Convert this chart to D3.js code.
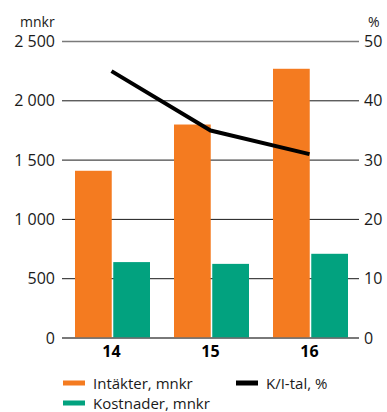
<!DOCTYPE html>
<html>
<head>
<meta charset="utf-8">
<script src="https://cdn.jsdelivr.net/npm/d3@7"></script>
<style>
  html, body { margin: 0; padding: 0; background: #fff; }
  svg { display: block; font-family: "Open Sans", Lato, sans-serif; }
</style>
</head>
<body>
<svg id="chart" width="387" height="412"></svg>
<script>
// Years shown on the category axis
const years = ["14", "15", "16"];
// Income and costs (mnkr)
const intakter = [1410, 1800, 2270];
const kostnader = [640, 625, 710];
// Cost/income ratio (%)
const kiTal = [45, 35, 31];
// Axis ticks
const leftTicks = [0, 500, 1000, 1500, 2000, 2500];
const rightTicks = [0, 10, 20, 30, 40, 50];

const orange = "#F47B20";
const green = "#02A27F";
const font = "'Open Sans', sans-serif";

const svg = d3.select("#chart");
const plotLeft = 62, plotRight = 359, plotTop = 41.5, plotBottom = 338;

const x = d3.scaleBand().domain(years).range([plotLeft, plotRight]).paddingInner(0).paddingOuter(0);
const xs = d3.scaleBand().domain(["intakter", "kostnader"]).range([13, 88]).paddingInner(0.04);
const yL = d3.scaleLinear().domain([0, 2500]).range([plotBottom, plotTop]);
const yR = d3.scaleLinear().domain([0, 50]).range([plotBottom, plotTop]);

const fmtL = d => d3.format(",")(d).replace(/,/g, " ");

// Gridlines
svg.append("g").selectAll("line").data(leftTicks).join("line")
  .attr("x1", plotLeft).attr("x2", plotRight)
  .attr("y1", d => yL(d)).attr("y2", d => yL(d))
  .attr("stroke", d => (d === 0 || d === 2500) ? "#7a7a7a" : "#1a1a1a")
  .attr("stroke-width", d => (d === 0 || d === 2500) ? 1.6 : 1);

// Bars
const groups = svg.append("g").selectAll("g").data(years).join("g")
  .attr("transform", d => `translate(${x(d)},0)`);
groups.append("rect")
  .attr("x", xs("intakter")).attr("width", xs.bandwidth())
  .attr("y", (d, i) => yL(intakter[i])).attr("height", (d, i) => plotBottom - yL(intakter[i]))
  .attr("fill", orange);
groups.append("rect")
  .attr("x", xs("kostnader")).attr("width", xs.bandwidth())
  .attr("y", (d, i) => yL(kostnader[i])).attr("height", (d, i) => plotBottom - yL(kostnader[i]))
  .attr("fill", green);

// Redraw baseline over bars
svg.append("line").attr("x1", plotLeft).attr("x2", plotRight)
  .attr("y1", yL(0)).attr("y2", yL(0)).attr("stroke", "#6e6e6e").attr("stroke-width", 1.6);

// K/I line
const line = d3.line()
  .x((d, i) => x(years[i]) + x.bandwidth() / 2)
  .y(d => yR(d));
svg.append("path").datum(kiTal).attr("d", line)
  .attr("fill", "none").attr("stroke", "#000").attr("stroke-width", 4)
  .attr("stroke-linejoin", "round");

// Left axis labels
const leftAxis = d3.axisLeft(yL).tickValues(leftTicks).tickFormat(fmtL).tickSize(0).tickPadding(7);
const gl = svg.append("g").attr("transform", `translate(${plotLeft},0)`).call(leftAxis);
gl.select(".domain").remove();
gl.selectAll("text").attr("font-size", 16).attr("fill", "#1a1a1a").attr("font-family", font);

// Right axis labels
const rightAxis = d3.axisRight(yR).tickValues(rightTicks).tickSize(0).tickPadding(5);
const gr = svg.append("g").attr("transform", `translate(${plotRight},0)`).call(rightAxis);
gr.select(".domain").remove();
gr.selectAll("text").attr("font-size", 16).attr("fill", "#1a1a1a").attr("font-family", font);

// Category labels
const xAxis = d3.axisBottom(x).tickSize(0).tickPadding(8);
const gx = svg.append("g").attr("transform", `translate(0,${plotBottom})`).call(xAxis);
gx.select(".domain").remove();
gx.selectAll("text").attr("font-size", 16).attr("font-weight", "bold").attr("fill", "#000")
  .attr("font-family", font);

// Unit labels
svg.append("text").attr("x", 20).attr("y", 27).attr("font-size", 14).attr("fill", "#1a1a1a").text("mnkr");
svg.append("text").attr("x", 368).attr("y", 27).attr("font-size", 14).attr("fill", "#1a1a1a").text("%");

// Legend
const legend = [
  { label: "Intäkter, mnkr", color: orange, x: 63, y: 383 },
  { label: "Kostnader, mnkr", color: green, x: 63, y: 403 },
  { label: "K/I-tal, %", color: "#000", x: 236, y: 383 }
];
const lg = svg.append("g").selectAll("g").data(legend).join("g")
  .attr("transform", d => `translate(${d.x},${d.y})`);
lg.append("rect").attr("x", 0).attr("y", -2.5).attr("width", 22).attr("height", 5).attr("fill", d => d.color);
lg.append("text").attr("x", 30).attr("y", 5.5).attr("font-size", 15).attr("fill", "#1a1a1a").text(d => d.label);
</script>
</body>
</html>
